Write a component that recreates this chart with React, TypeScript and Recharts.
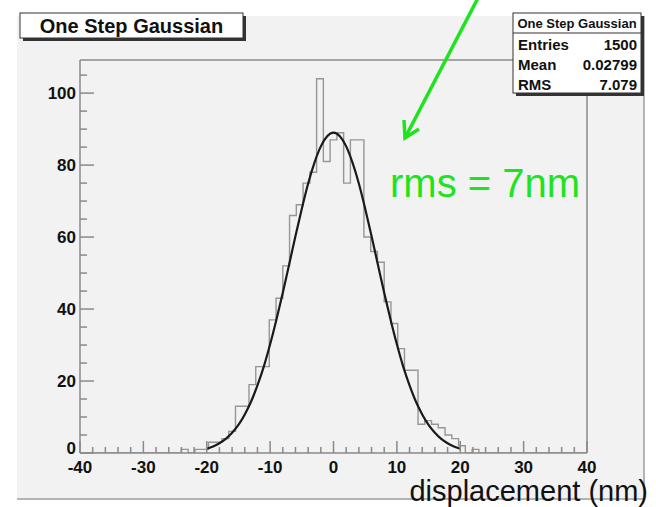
import React from 'react';
import { ComposedChart, Line, XAxis, YAxis, ReferenceLine } from 'recharts';

// histogram: 75 bins over [-40, 40]
const xMin = -40;
const xMax = 40;
const binCount = 75;
const firstFilledBin = 15;
// bin contents (bins 15..58, everything else empty)
const binContents = [
  1, 0, 1, 1, 3, 3, 4, 6, 13, 13, 19, 24, 24, 37, 43, 52, 66, 69, 75, 78, 104, 81,
  87, 89, 75, 87, 87, 60, 56, 53, 42, 36, 29, 23, 23, 8, 9, 8, 7, 5, 4, 2, 0, 1,
];

// gaussian fit curve
const fitX = [
  -20, -19, -18, -17, -16, -15, -14, -13, -12, -11, -10, -9, -8, -7, -6, -5, -4, -3, -2, -1, 0,
  1, 2, 3, 4, 5, 6, 7, 8, 9, 10, 11, 12, 13, 14, 15, 16, 17, 18, 19, 20,
];
const fitY = [
  1.2, 1.8, 2.7, 3.9, 5.6, 7.8, 10.7, 14.3, 18.8, 24.0, 30.2, 37.1, 44.5, 52.4, 60.3, 67.9, 74.9, 80.7, 85.2, 88.0, 89.0,
  88.0, 85.2, 80.7, 74.9, 67.9, 60.3, 52.4, 44.5, 37.1, 30.2, 24.0, 18.8, 14.3, 10.7, 7.8, 5.6, 3.9, 2.7, 1.8, 1.2,
];

const xTicks = [
  -40, -38, -36, -34, -32, -30, -28, -26, -24, -22, -20, -18, -16, -14, -12, -10, -8, -6, -4, -2, 0,
  2, 4, 6, 8, 10, 12, 14, 16, 18, 20, 22, 24, 26, 28, 30, 32, 34, 36, 38, 40,
];
const yTicks = [0, 5, 10, 15, 20, 25, 30, 35, 40, 45, 50, 55, 60, 65, 70, 75, 80, 85, 90, 95, 100, 105];
const yTop = 109.2;

const title = 'One Step Gaussian';
const statsRows = [
  ['Entries', '1500'],
  ['Mean', '0.02799'],
  ['RMS', '7.079'],
];

const binWidth = (xMax - xMin) / binCount;
const histData: { x: number; count: number }[] = [];
for (let n = 0; n < binCount; n++) {
  const i = n - firstFilledBin;
  const c = i >= 0 && i < binContents.length ? binContents[i] : 0;
  histData.push({ x: xMin + n * binWidth, count: c });
}
histData.push({ x: xMax, count: histData[binCount - 1].count });

const fitData = fitX.map((x, i) => ({ x, fit: fitY[i] }));

const axisColor = '#8a8a8a';
const font = '"Liberation Sans", Arial, sans-serif';
const green = '#1de41d';

const XTick = (props: any) => {
  const { x, y, payload } = props;
  const v = payload.value;
  const major = v % 10 === 0;
  return (
    <g>
      <line x1={x} y1={y} x2={x} y2={y - (major ? 12 : 6)} stroke={axisColor} strokeWidth={1.5} />
      {major && (
        <text x={x} y={y + 14} textAnchor='middle' dominantBaseline='central'
          fontFamily={font} fontWeight='bold' fontSize={17} fill='#111'>
          {v}
        </text>
      )}
    </g>
  );
};

const YTick = (props: any) => {
  const { x, y, payload } = props;
  const v = payload.value;
  const major = v % 20 === 0;
  return (
    <g>
      <line x1={x} y1={y} x2={x + (major ? 14 : 7)} y2={y} stroke={axisColor} strokeWidth={1.5} />
      {major && (
        <text x={x - 4} y={v === 0 ? y - 5 : y} textAnchor='end' dominantBaseline='central'
          fontFamily={font} fontWeight='bold' fontSize={17} fill='#111'>
          {v}
        </text>
      )}
    </g>
  );
};

const App = () => {
  return (
    <div style={{ position: 'absolute', left: 0, top: 0, width: 656, height: 507, background: '#fff', overflow: 'hidden' }}>
      {/* canvas */}
      <div
        style={{
          position: 'absolute', left: 17, top: 16, width: 626, height: 482,
          background: '#f2f2f2', borderRight: '2px solid #b4b4b4', borderBottom: '2px solid #b4b4b4',
        }}
      />
      <div style={{ position: 'absolute', left: 0, top: 0 }}>
        <ComposedChart width={656} height={507} margin={{ top: 60, right: 69, bottom: 0, left: 0 }}>
          <XAxis
            type='number'
            dataKey='x'
            domain={[xMin, xMax]}
            ticks={xTicks}
            interval={0}
            height={54}
            tickLine={false}
            tickSize={0}
            tickMargin={0}
            tick={<XTick />}
            axisLine={{ stroke: axisColor, strokeWidth: 1.5 }}
            allowDataOverflow
          />
          <YAxis
            type='number'
            domain={[0, yTop]}
            ticks={yTicks}
            interval={0}
            width={80}
            tickLine={false}
            tickSize={0}
            tickMargin={0}
            tick={<YTick />}
            axisLine={{ stroke: axisColor, strokeWidth: 1.5 }}
            allowDataOverflow
          />
          <ReferenceLine y={yTop} stroke={axisColor} strokeWidth={1.5} />
          <ReferenceLine x={xMax} stroke={axisColor} strokeWidth={1.5} />
          <Line
            data={histData}
            dataKey='count'
            type='stepAfter'
            stroke='#969696'
            strokeWidth={1.4}
            dot={false}
            isAnimationActive={false}
          />
          <Line
            data={fitData}
            dataKey='fit'
            type='monotone'
            stroke='#1a1a1a'
            strokeWidth={2.2}
            dot={false}
            isAnimationActive={false}
          />
        </ComposedChart>
      </div>
      {/* ROOT style boxes and annotations */}
      <svg width={656} height={507} style={{ position: 'absolute', left: 0, top: 0, pointerEvents: 'none' }}>
        <rect x={23} y={16} width={223} height={25} fill='#333' />
        <rect x={20} y={13} width={223} height={25} fill='#fff' stroke='#333' strokeWidth={1} />
        <text x={131.5} y={33} textAnchor='middle' fontFamily={font} fontWeight='bold' fontSize={20} fill='#111'>
          {title}
        </text>

        <rect x={516} y={16} width={128} height={80} fill='#333' />
        <rect x={513} y={13} width={128} height={80} fill='#fff' stroke='#333' strokeWidth={1} />
        <line x1={513} y1={33} x2={641} y2={33} stroke='#333' strokeWidth={1} />
        <text x={577} y={28} textAnchor='middle' fontFamily={font} fontWeight='bold' fontSize={13} fill='#111'>
          {title}
        </text>
        {statsRows.map(([k, v], i) => (
          <g key={k}>
            <text x={518} y={50 + i * 20} fontFamily={font} fontWeight='bold' fontSize={15} fill='#111'>{k}</text>
            <text x={637} y={50 + i * 20} textAnchor='end' fontFamily={font} fontWeight='bold' fontSize={15} fill='#111'>{v}</text>
          </g>
        ))}

        <line x1={478} y1={-2} x2={405} y2={138} stroke={green} strokeWidth={3.5} />
        <polyline points='404,120 405,138 419,129' fill='none' stroke={green} strokeWidth={3.5} />
        <text x={390} y={197} fontFamily={font} fontSize={40} fill={green}>rms = 7nm</text>

        <text x={648} y={501} textAnchor='end' fontFamily={font} fontSize={29} fill='#111'>displacement (nm)</text>
      </svg>
    </div>
  );
};

export default App;
